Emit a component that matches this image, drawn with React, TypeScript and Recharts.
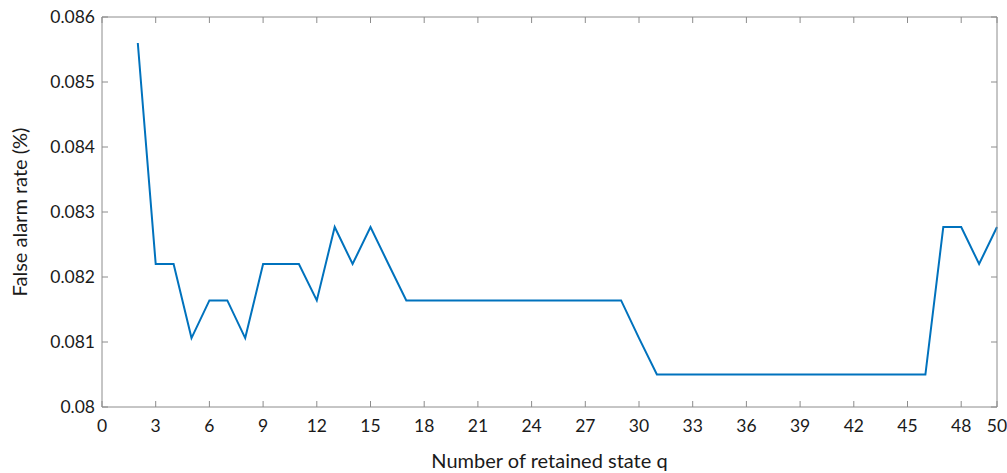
import React from 'react';
import { LineChart, Line, XAxis, YAxis } from 'recharts';

const qValues = [2, 3, 4, 5, 6, 7, 8, 9, 10, 11, 12, 13, 14, 15, 16, 17, 18, 19, 20, 21, 22, 23, 24, 25, 26, 27, 28, 29, 30, 31, 32, 33, 34, 35, 36, 37, 38, 39, 40, 41, 42, 43, 44, 45, 46, 47, 48, 49, 50];
const falseAlarmRates = [
  0.0856, 0.0822, 0.0822, 0.08106, 0.08164, 0.08164, 0.08106, 0.0822, 0.0822, 0.0822,
  0.08164, 0.08277, 0.0822, 0.08277, 0.0822, 0.08164, 0.08164, 0.08164, 0.08164, 0.08164,
  0.08164, 0.08164, 0.08164, 0.08164, 0.08164, 0.08164, 0.08164, 0.08164, 0.08106, 0.0805,
  0.0805, 0.0805, 0.0805, 0.0805, 0.0805, 0.0805, 0.0805, 0.0805, 0.0805, 0.0805,
  0.0805, 0.0805, 0.0805, 0.0805, 0.0805, 0.08277, 0.08277, 0.0822, 0.08277,
];
const xTicks = [0, 3, 6, 9, 12, 15, 18, 21, 24, 27, 30, 33, 36, 39, 42, 45, 48, 50];
const yTicks = [0.08, 0.081, 0.082, 0.083, 0.084, 0.085, 0.086];

const data = qValues.map((q, i) => ({ q, rate: falseAlarmRates[i] }));

const AXIS = '#8c8c8c';
const TEXT = '#1a1a1a';
const FONT = 'Lato, "Open Sans", sans-serif';
const TICK_LEN = 6;
const TICK_FONT = 17.5;

const BottomTick = (props: any) => {
  const { x, y, payload } = props;
  return (
    <g>
      <line x1={x} y1={y} x2={x} y2={y - TICK_LEN} stroke={AXIS} strokeWidth={1} />
      <text x={x} y={y + 25} textAnchor="middle" fill={TEXT} fontSize={TICK_FONT} fontFamily={FONT}>
        {payload.value}
      </text>
    </g>
  );
};

const TopTick = (props: any) => {
  const { x, y } = props;
  return <line x1={x} y1={y} x2={x} y2={y + TICK_LEN} stroke={AXIS} strokeWidth={1} />;
};

const LeftTick = (props: any) => {
  const { x, y, payload } = props;
  return (
    <g>
      <line x1={x} y1={y} x2={x + TICK_LEN} y2={y} stroke={AXIS} strokeWidth={1} />
      <text x={x - 7} y={y} dy="0.36em" textAnchor="end" fill={TEXT} fontSize={TICK_FONT} fontFamily={FONT}>
        {payload.value}
      </text>
    </g>
  );
};

const RightTick = (props: any) => {
  const { x, y } = props;
  return <line x1={x} y1={y} x2={x - TICK_LEN} y2={y} stroke={AXIS} strokeWidth={1} />;
};

export default function App() {
  return (
    <div style={{ position: 'absolute', left: 0, top: 0 }}>
      <LineChart
        width={1007}
        height={473}
        data={data}
        margin={{ top: 16, right: 9, bottom: 0, left: 0 }}
        style={{ fontFamily: FONT }}
      >
        <XAxis
          dataKey="q"
          type="number"
          domain={[0, 50]}
          ticks={xTicks}
          interval={0}
          height={66}
          stroke={AXIS}
          tickLine={false}
          tickSize={0}
          tickMargin={0}
          tick={<BottomTick />}
          label={{ value: 'Number of retained state q', position: 'insideBottom', offset: 5, fill: TEXT, fontSize: 20 }}
        />
        <XAxis
          xAxisId="top"
          orientation="top"
          dataKey="q"
          type="number"
          domain={[0, 50]}
          ticks={xTicks}
          interval={0}
          height={1}
          stroke={AXIS}
          tickLine={false}
          tickSize={0}
          tickMargin={0}
          tick={<TopTick />}
        />
        <YAxis
          type="number"
          domain={[0.08, 0.086]}
          ticks={yTicks}
          interval={0}
          width={102}
          stroke={AXIS}
          tickLine={false}
          tickSize={0}
          tickMargin={0}
          tick={<LeftTick />}
          label={{ value: 'False alarm rate (%)', angle: -90, position: 'insideLeft', offset: 20, fill: TEXT, fontSize: 20, style: { textAnchor: 'middle' } }}
        />
        <YAxis
          yAxisId="right"
          orientation="right"
          type="number"
          domain={[0.08, 0.086]}
          ticks={yTicks}
          interval={0}
          width={1}
          stroke={AXIS}
          tickLine={false}
          tickSize={0}
          tickMargin={0}
          tick={<RightTick />}
        />
        <Line
          xAxisId="top"
          yAxisId="right"
          type="linear"
          dataKey="rate"
          stroke="none"
          dot={false}
          legendType="none"
          isAnimationActive={false}
        />
        <Line
          type="linear"
          dataKey="rate"
          stroke="#0072BD"
          strokeWidth={2}
          dot={false}
          isAnimationActive={false}
        />
      </LineChart>
    </div>
  );
}
